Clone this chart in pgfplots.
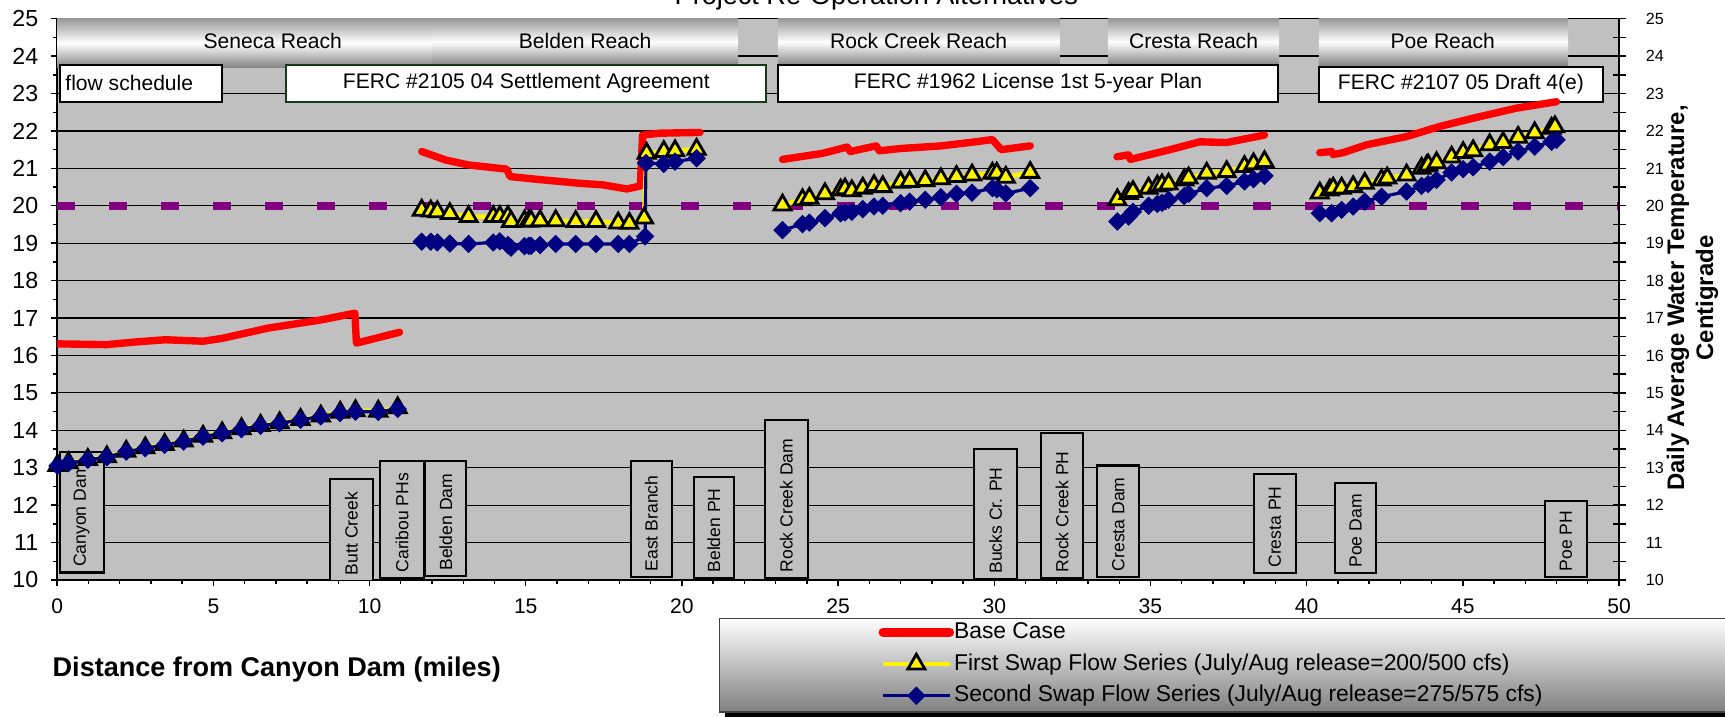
\documentclass[border=0pt]{standalone}
\usepackage{pgfplots}
\pgfplotsset{compat=1.18}
\usepackage{fontspec}
\setmainfont{Liberation Sans}
\definecolor{bg}{RGB}{192,192,192}
\definecolor{navyb}{RGB}{0,0,128}
\definecolor{purp}{RGB}{128,0,128}
\definecolor{dgreen}{RGB}{20,60,20}
\newcommand\fsz[1]{\fontsize{#1}{#1}\selectfont}
\begin{document}
\begin{tikzpicture}
\useasboundingbox (0,0) rectangle (17.25cm,7.17cm);
\fill[white] (0,0) rectangle (17.25cm,7.17cm);
\begin{axis}[
  at={(0.572cm,1.37cm)}, anchor=south west,
  scale only axis, width=15.618cm, height=5.613cm,
  xmin=0, xmax=50, ymin=10, ymax=25,
  axis x line*=bottom, axis y line*=left,
  axis line style={black, line width=0.5pt},
  axis background/.style={fill=bg},
  xtick={0,5,...,50}, minor x tick num=4,
  ytick={10,11,...,25}, minor y tick num=1,
  tick align=outside,
  major tick length=0.65mm, minor tick length=0.45mm,
  tick style={black, line width=0.4pt},
  ymajorgrids, major grid style={black, line width=0.35pt},
  /pgf/number format/assume math mode=true,
  xticklabel style={font=\fsz{6}},
  yticklabel style={font=\fsz{6.6}},
  unbounded coords=jump,
]
% reach banners
\shade[top color=black!40, bottom color=black!48, middle color=white] (axis cs:0,23.7) rectangle (axis cs:12.0,25);
\shade[top color=black!40, bottom color=black!48, middle color=white] (axis cs:12.0,23.76) rectangle (axis cs:21.8,25);
\shade[top color=black!40, bottom color=black!48, middle color=white] (axis cs:23.07,23.76) rectangle (axis cs:32.09,25);
\shade[top color=black!40, bottom color=black!48, middle color=white] (axis cs:33.64,23.76) rectangle (axis cs:39.12,25);
\shade[top color=black!40, bottom color=black!48, middle color=white] (axis cs:40.39,23.76) rectangle (axis cs:48.37,25);
\node[font=\fsz{6}] at (axis cs:6.9,24.4) {Seneca Reach};
\node[font=\fsz{6}] at (axis cs:16.9,24.4) {Belden Reach};
\node[font=\fsz{6}] at (axis cs:27.58,24.4) {Rock Creek Reach};
\node[font=\fsz{6}] at (axis cs:36.38,24.4) {Cresta Reach};
\node[font=\fsz{6}] at (axis cs:44.36,24.4) {Poe Reach};
% FERC boxes
\draw[black, line width=0.6pt, fill=white] (axis cs:0.1,22.78) rectangle (axis cs:5.28,23.76);
\node[anchor=west, font=\fsz{6}, inner sep=0pt] at (axis cs:0.24,23.28) {flow schedule};
\draw[dgreen, line width=0.6pt, fill=white] (axis cs:7.33,22.78) rectangle (axis cs:22.7,23.76);
\node[font=\fsz{6}] at (axis cs:15.02,23.27) {FERC \#2105 04 Settlement Agreement};
\draw[black, line width=0.6pt, fill=white] (axis cs:23.07,22.77) rectangle (axis cs:39.09,23.76);
\node[font=\fsz{6}] at (axis cs:31.08,23.27) {FERC \#1962 License 1st 5-year Plan};
\draw[black, line width=0.6pt, fill=white] (axis cs:40.39,22.78) rectangle (axis cs:49.48,23.72);
\node[font=\fsz{6}] at (axis cs:44.94,23.25) {FERC \#2107 05 Draft 4(e)};
% station boxes
\draw[black, line width=0.6pt, fill=bg] (axis cs:0.1,10.2) rectangle (axis cs:1.51,13.43);
\node[rotate=90, anchor=west, font=\fsz{5}, inner xsep=0.5mm, inner ysep=0pt] at (axis cs:0.78,10.2) {Canyon Dam};
\draw[black, line width=0.6pt, fill=bg] (axis cs:8.74,9.98) rectangle (axis cs:10.11,12.7);
\node[rotate=90, anchor=west, font=\fsz{5}, inner xsep=0.5mm, inner ysep=0pt] at (axis cs:9.42,9.98) {Butt Creek};
\draw[black, line width=0.6pt, fill=bg] (axis cs:10.34,10.05) rectangle (axis cs:11.74,13.18);
\node[rotate=90, anchor=west, font=\fsz{5}, inner xsep=0.5mm, inner ysep=0pt] at (axis cs:11.04,10.05) {Caribou PHs};
\draw[black, line width=0.6pt, fill=bg] (axis cs:11.78,10.1) rectangle (axis cs:13.1,13.18);
\node[rotate=90, anchor=west, font=\fsz{5}, inner xsep=0.5mm, inner ysep=0pt] at (axis cs:12.44,10.1) {Belden Dam};
\draw[black, line width=0.6pt, fill=bg] (axis cs:18.36,10.08) rectangle (axis cs:19.68,13.18);
\node[rotate=90, anchor=west, font=\fsz{5}, inner xsep=0.5mm, inner ysep=0pt] at (axis cs:19.02,10.08) {East Branch};
\draw[black, line width=0.6pt, fill=bg] (axis cs:20.38,10.05) rectangle (axis cs:21.66,12.76);
\node[rotate=90, anchor=west, font=\fsz{5}, inner xsep=0.5mm, inner ysep=0pt] at (axis cs:21.02,10.05) {Belden PH};
\draw[black, line width=0.6pt, fill=bg] (axis cs:22.66,10.05) rectangle (axis cs:24.03,14.28);
\node[rotate=90, anchor=west, font=\fsz{5}, inner xsep=0.5mm, inner ysep=0pt] at (axis cs:23.34,10.05) {Rock Creek Dam};
\draw[black, line width=0.6pt, fill=bg] (axis cs:29.36,10.02) rectangle (axis cs:30.72,13.49);
\node[rotate=90, anchor=west, font=\fsz{5}, inner xsep=0.5mm, inner ysep=0pt] at (axis cs:30.04,10.02) {Bucks Cr. PH};
\draw[black, line width=0.6pt, fill=bg] (axis cs:31.5,10.05) rectangle (axis cs:32.84,13.92);
\node[rotate=90, anchor=west, font=\fsz{5}, inner xsep=0.5mm, inner ysep=0pt] at (axis cs:32.17,10.05) {Rock Creek PH};
\draw[black, line width=0.6pt, fill=bg] (axis cs:33.3,10.08) rectangle (axis cs:34.64,13.06);
\node[rotate=90, anchor=west, font=\fsz{5}, inner xsep=0.5mm, inner ysep=0pt] at (axis cs:33.97,10.08) {Cresta Dam};
\draw[black, line width=0.6pt, fill=bg] (axis cs:38.32,10.18) rectangle (axis cs:39.65,12.83);
\node[rotate=90, anchor=west, font=\fsz{5}, inner xsep=0.5mm, inner ysep=0pt] at (axis cs:38.98,10.18) {Cresta PH};
\draw[black, line width=0.6pt, fill=bg] (axis cs:40.91,10.18) rectangle (axis cs:42.23,12.59);
\node[rotate=90, anchor=west, font=\fsz{5}, inner xsep=0.5mm, inner ysep=0pt] at (axis cs:41.57,10.18) {Poe Dam};
\draw[black, line width=0.6pt, fill=bg] (axis cs:47.63,10.08) rectangle (axis cs:48.97,12.1);
\node[rotate=90, anchor=west, font=\fsz{5}, inner xsep=0.5mm, inner ysep=0pt] at (axis cs:48.3,10.08) {Poe PH};
% 20 C criterion
\addplot[purp, line width=2.4pt, line cap=butt, dash pattern=on 1.75mm off 3.45mm, forget plot] coordinates {(0,20) (50,20)};
% Base Case
\addplot[red, line width=2.1pt, line join=round, line cap=round] coordinates {
(0,16.31) (1.6,16.29) (2.5,16.36) (3.46,16.42) (4.67,16.38) (5.3,16.46) (6.74,16.73) (8.45,16.95) (9.53,17.13) (9.58,16.33) (10.96,16.62)
(11.3,nan)
(11.67,21.45) (12.45,21.22) (13.17,21.09) (14.39,20.98) (14.5,20.78) (15.32,20.71) (16.73,20.6) (17.46,20.56) (18.24,20.45) (18.67,20.53) (18.74,21.89) (19.3,21.94) (20.58,21.96)
(22,nan)
(23.22,21.24) (24.5,21.4) (25.29,21.57) (25.39,21.45) (26.22,21.6) (26.32,21.47) (27.0,21.53) (28.29,21.6) (29.5,21.72) (29.94,21.77) (30.22,21.5) (31.15,21.6)
(32.5,nan)
(33.93,21.31) (34.3,21.36) (34.36,21.24) (35.58,21.49) (36.58,21.71) (37.44,21.69) (38.65,21.89)
(39.5,nan)
(40.42,21.42) (40.8,21.45) (40.85,21.37) (41.17,21.42) (41.92,21.63) (43.2,21.85) (44.26,22.12) (45.33,22.34) (46.72,22.61) (48.0,22.78)
};
% First swap
\addplot[yellow, line width=1.35pt, mark=triangle*, mark size=2.8pt, mark options={fill=yellow, draw=black, line width=0.8pt, solid}] coordinates {
(0.01,13.06) (0.36,13.13) (0.98,13.22) (1.59,13.29) (2.21,13.44) (2.82,13.53) (3.44,13.62) (4.05,13.71) (4.67,13.84) (5.28,13.93) (5.9,14.04) (6.51,14.13) (7.12,14.2) (7.79,14.29) (8.44,14.38) (9.06,14.48) (9.55,14.52) (10.28,14.51) (10.9,14.6)
(11.3,nan)
(11.67,19.88) (11.96,19.86) (12.17,19.84) (12.57,19.79) (13.17,19.71) (13.96,19.71) (14.17,19.71) (14.43,19.71) (14.53,19.58) (14.96,19.59) (15.1,19.59) (15.17,19.59) (15.46,19.6) (15.96,19.6) (16.6,19.58) (17.25,19.58) (17.96,19.54) (18.32,19.53) (18.79,19.67) (18.87,21.4) (19.42,21.45) (19.78,21.47) (20.47,21.51)
(22,nan)
(23.22,20.02) (23.86,20.16) (24.08,20.2) (24.58,20.32) (25.08,20.42) (25.22,20.45) (25.44,20.4) (25.79,20.47) (26.15,20.54) (26.43,20.51) (27.0,20.63) (27.29,20.65) (27.79,20.67) (28.29,20.72) (28.79,20.78) (29.29,20.82) (29.94,20.87) (30.08,20.87) (30.37,20.76) (31.15,20.89)
(32.5,nan)
(33.94,20.16) (34.3,20.33) (34.44,20.38) (34.94,20.47) (35.22,20.53) (35.37,20.56) (35.58,20.58) (36.08,20.69) (36.22,20.74) (36.8,20.87) (37.44,20.91) (38.01,21.05) (38.3,21.12) (38.65,21.18)
(39.5,nan)
(40.42,20.34) (40.74,20.42) (40.85,20.47) (41.12,20.47) (41.49,20.51) (41.86,20.6) (42.4,20.69) (42.58,20.74) (43.2,20.82) (43.68,21.0) (43.84,21.06) (43.89,21.09) (44.16,21.15) (44.64,21.3) (45.01,21.42) (45.33,21.47) (45.86,21.63) (46.29,21.69) (46.77,21.83) (47.3,21.95) (47.84,22.07) (47.95,22.11)
};
% Second swap
\addplot[navyb, line width=0.9pt, mark=square*, mark size=1.75pt, mark options={rotate=45, fill=navyb, draw=navyb, line width=0.2pt, solid}] coordinates {
(0.01,13.05) (0.36,13.12) (0.98,13.21) (1.59,13.28) (2.21,13.43) (2.82,13.52) (3.44,13.61) (4.05,13.7) (4.67,13.83) (5.28,13.92) (5.9,14.03) (6.51,14.12) (7.12,14.19) (7.79,14.28) (8.44,14.37) (9.06,14.46) (9.55,14.5) (10.28,14.49) (10.9,14.57)
(11.3,nan)
(11.67,19.04) (11.96,19.04) (12.17,19.02) (12.57,18.99) (13.17,18.98) (13.96,19.02) (14.17,19.05) (14.43,18.95) (14.53,18.88) (14.96,18.92) (15.1,18.93) (15.17,18.93) (15.46,18.95) (15.96,18.98) (16.6,18.98) (17.25,18.98) (17.96,18.98) (18.32,18.98) (18.82,19.18) (18.85,21.14) (19.42,21.12) (19.78,21.18) (20.47,21.27)
(22,nan)
(23.22,19.35) (23.86,19.51) (24.08,19.55) (24.58,19.67) (25.08,19.8) (25.22,19.82) (25.44,19.84) (25.79,19.91) (26.15,19.98) (26.43,20.0) (27.0,20.07) (27.29,20.11) (27.79,20.16) (28.29,20.23) (28.79,20.32) (29.29,20.35) (29.94,20.47) (30.08,20.44) (30.37,20.33) (31.15,20.47)
(32.5,nan)
(33.94,19.58) (34.3,19.71) (34.44,19.84) (34.94,20.0) (35.22,20.05) (35.37,20.08) (35.58,20.16) (36.08,20.26) (36.22,20.32) (36.8,20.47) (37.44,20.53) (38.01,20.65) (38.3,20.71) (38.65,20.8)
(39.5,nan)
(40.42,19.8) (40.8,19.8) (41.12,19.89) (41.49,19.98) (41.86,20.11) (42.4,20.24) (43.2,20.38) (43.68,20.53) (43.89,20.58) (44.16,20.69) (44.64,20.89) (45.01,20.98) (45.33,21.03) (45.86,21.18) (46.29,21.3) (46.77,21.45) (47.3,21.58) (47.84,21.71) (48.0,21.76)
};
\end{axis}
% legend box with shadow
\fill[black] (7.25cm,-0.1cm) rectangle (17.5cm,0.06cm);
\shade[top color=white, bottom color=black!50, draw=black!75, line width=0.4pt] (7.193cm,0.05cm) rectangle (17.4cm,0.983cm);
\begin{axis}[
  at={(0.572cm,1.37cm)}, anchor=south west,
  scale only axis, width=15.618cm, height=5.613cm,
  xmin=0, xmax=50, ymin=10, ymax=25,
  axis x line=none, axis y line*=right,
  axis line style={black, line width=0.5pt},
  ytick={10,11,...,25}, minor y tick num=1,
  tick align=center, major tick length=1.3mm, minor tick length=1.3mm,
  tick style={black, line width=0.4pt},
  /pgf/number format/assume math mode=true,
  yticklabel style={font=\fsz{4.6}, xshift=0.8mm},
  legend style={at={(0.5255,-0.0641)}, anchor=north west, draw=none, fill=none,
    inner xsep=0pt, inner ysep=0pt, row sep=0pt, column sep=0pt,
    nodes={inner xsep=0pt, inner ysep=1.2pt, text height=5pt, text depth=1.6pt, font=\fsz{6.5}}},
  legend cell align=left,
  legend image code/.code={\draw[mark repeat=2,mark phase=2,#1] plot coordinates {(0cm,0cm) (0.335cm,0cm) (0.67cm,0cm)};},
]
\addlegendimage{red, line width=2.4pt, line cap=round}
\addlegendentry{Base Case}
\addlegendimage{yellow, line width=1.35pt, mark=triangle*, mark size=2.8pt, mark options={fill=yellow, draw=black, line width=0.8pt, solid}}
\addlegendentry{First Swap Flow Series (July/Aug release=200/500 cfs)}
\addlegendimage{navyb, line width=0.9pt, mark=square*, mark size=1.75pt, mark options={rotate=45, fill=navyb, draw=navyb, line width=0.2pt, solid}}
\addlegendentry{Second Swap Flow Series (July/Aug release=275/575 cfs)}
\end{axis}
\node[anchor=base, font=\fsz{7.7}] at (8.763cm,7.12cm) {Project Re-Operation Alternatives};
\node[anchor=base west, font=\bfseries\fsz{7.7}, inner sep=0pt] at (0.52cm,0.40cm) {Distance from Canyon Dam (miles)};
\node[rotate=90, align=center, font=\bfseries\fontsize{6.8}{8.2}\selectfont] at (16.925cm,4.19cm) {Daily Average Water Temperature,\\Centigrade};
\end{tikzpicture}
\end{document}
